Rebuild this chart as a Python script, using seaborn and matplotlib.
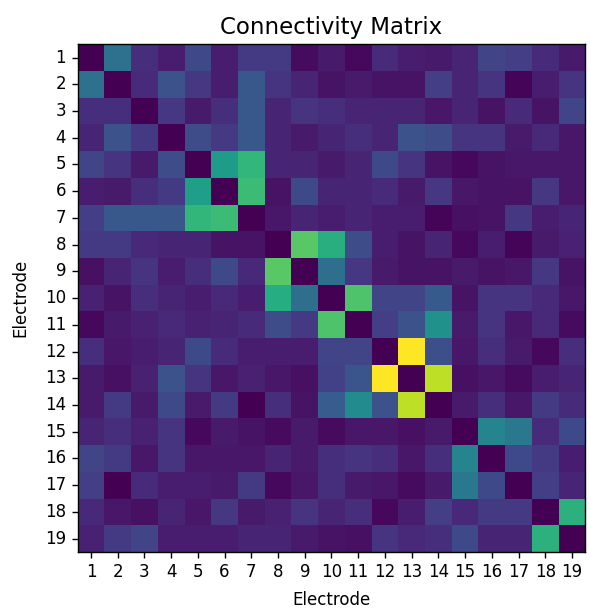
import numpy as np
import pandas as pd
import matplotlib
matplotlib.use("Agg")
import matplotlib.pyplot as plt
import seaborn as sns

electrodes = [str(i) for i in range(1, 20)]

row1 = [0.00, 0.37, 0.13, 0.08, 0.22, 0.08, 0.17, 0.17, 0.03, 0.07, 0.02, 0.12, 0.08, 0.07, 0.10, 0.20, 0.18, 0.12, 0.07]
row2 = [0.37, 0.00, 0.12, 0.25, 0.16, 0.08, 0.27, 0.15, 0.10, 0.05, 0.07, 0.05, 0.05, 0.18, 0.10, 0.15, 0.01, 0.08, 0.15]
row3 = [0.13, 0.13, 0.00, 0.16, 0.07, 0.13, 0.27, 0.10, 0.15, 0.13, 0.10, 0.10, 0.10, 0.06, 0.10, 0.05, 0.12, 0.05, 0.20]
row4 = [0.10, 0.25, 0.17, 0.00, 0.23, 0.17, 0.27, 0.10, 0.07, 0.10, 0.13, 0.10, 0.25, 0.23, 0.15, 0.15, 0.07, 0.11, 0.06]
row5 = [0.20, 0.15, 0.07, 0.23, 0.00, 0.55, 0.66, 0.10, 0.10, 0.07, 0.10, 0.22, 0.15, 0.05, 0.02, 0.05, 0.06, 0.06, 0.06]
row6 = [0.08, 0.07, 0.13, 0.17, 0.56, 0.00, 0.68, 0.05, 0.22, 0.10, 0.10, 0.12, 0.07, 0.16, 0.06, 0.05, 0.05, 0.16, 0.06]
row7 = [0.18, 0.27, 0.27, 0.27, 0.66, 0.68, 0.00, 0.06, 0.10, 0.08, 0.10, 0.08, 0.08, 0.01, 0.04, 0.05, 0.16, 0.08, 0.10]
row8 = [0.17, 0.17, 0.11, 0.10, 0.10, 0.05, 0.05, 0.00, 0.74, 0.63, 0.23, 0.08, 0.05, 0.10, 0.02, 0.08, 0.01, 0.07, 0.09]
row9 = [0.04, 0.10, 0.15, 0.08, 0.13, 0.22, 0.11, 0.74, 0.00, 0.36, 0.16, 0.07, 0.05, 0.05, 0.07, 0.05, 0.06, 0.16, 0.05]
row10 = [0.09, 0.05, 0.13, 0.10, 0.08, 0.11, 0.08, 0.62, 0.36, 0.00, 0.72, 0.20, 0.20, 0.28, 0.05, 0.15, 0.15, 0.11, 0.06]
row11 = [0.02, 0.07, 0.09, 0.11, 0.09, 0.10, 0.12, 0.23, 0.17, 0.72, 0.00, 0.18, 0.25, 0.50, 0.07, 0.15, 0.06, 0.11, 0.03]
row12 = [0.13, 0.06, 0.08, 0.10, 0.22, 0.12, 0.08, 0.08, 0.08, 0.20, 0.20, 0.00, 1.00, 0.24, 0.06, 0.13, 0.07, 0.02, 0.13]
row13 = [0.07, 0.04, 0.09, 0.25, 0.15, 0.06, 0.09, 0.06, 0.04, 0.19, 0.26, 1.00, 0.00, 0.90, 0.04, 0.06, 0.03, 0.08, 0.10]
row14 = [0.07, 0.17, 0.07, 0.22, 0.07, 0.17, 0.00, 0.13, 0.05, 0.29, 0.48, 0.25, 0.90, 0.00, 0.07, 0.13, 0.06, 0.17, 0.12]
row15 = [0.10, 0.13, 0.09, 0.15, 0.02, 0.07, 0.05, 0.03, 0.07, 0.03, 0.06, 0.06, 0.04, 0.07, 0.00, 0.45, 0.40, 0.12, 0.22]
row16 = [0.20, 0.17, 0.06, 0.15, 0.06, 0.06, 0.06, 0.10, 0.07, 0.13, 0.15, 0.13, 0.06, 0.13, 0.45, 0.00, 0.22, 0.17, 0.08]
row17 = [0.18, 0.00, 0.12, 0.08, 0.08, 0.07, 0.17, 0.02, 0.06, 0.13, 0.07, 0.06, 0.03, 0.07, 0.40, 0.22, 0.00, 0.18, 0.10]
row18 = [0.11, 0.06, 0.04, 0.10, 0.06, 0.16, 0.07, 0.09, 0.15, 0.10, 0.13, 0.02, 0.08, 0.18, 0.11, 0.17, 0.17, 0.00, 0.64]
row19 = [0.09, 0.17, 0.20, 0.08, 0.08, 0.08, 0.10, 0.10, 0.07, 0.05, 0.04, 0.15, 0.11, 0.13, 0.22, 0.10, 0.10, 0.64, 0.00]

rows = [row1, row2, row3, row4, row5, row6, row7, row8, row9, row10,
        row11, row12, row13, row14, row15, row16, row17, row18, row19]
conn = pd.DataFrame(rows, index=electrodes, columns=electrodes)

fig = plt.figure(figsize=(5.9, 6.09), dpi=100)
# axes box placed to match the reference (pixels 77..586 x 44..552)
ax = fig.add_axes([0.1305, 0.0936, 0.8627, 0.8338])
sns.heatmap(conn, cmap="viridis", vmin=0, vmax=1, cbar=False, square=True, ax=ax)

for s in ax.spines.values():
    s.set_visible(True)
    s.set_color("black")
    s.set_linewidth(1.0)

ax.tick_params(axis="both", length=4.2, width=1.0, labelsize=12, pad=4)
ax.set_yticklabels(electrodes, rotation=0)
ax.set_xticklabels(electrodes, rotation=0)
ax.set_title("Connectivity Matrix", fontsize=16.5, pad=7)
ax.set_xlabel("Electrode", fontsize=12, labelpad=7)
ax.set_ylabel("Electrode", fontsize=12, labelpad=11)

fig.savefig("out.png", dpi=100)
